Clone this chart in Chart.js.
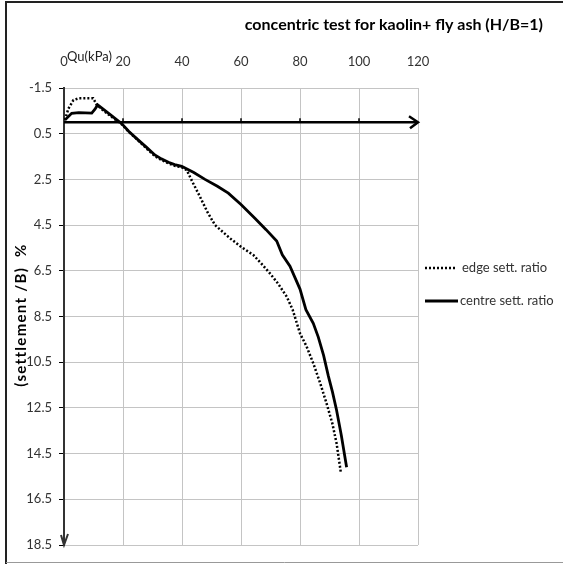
<!DOCTYPE html>
<html>
<head>
<meta charset="utf-8">
<title>concentric test for kaolin+ fly ash (H/B=1)</title>
<script src="https://cdn.jsdelivr.net/npm/chart.js@4.4.1/dist/chart.umd.min.js"></script>
<style>
  html, body { margin: 0; padding: 0; background: #fff; }
  #wrap { width: 563px; height: 564px; }
</style>
</head>
<body>
<div id="wrap"><canvas id="chart" width="563" height="564"></canvas></div>
<script>
// Axis ticks
const xTicks = [0, 20, 40, 60, 80, 100, 120];
const yTicks = [-1.5, 0.5, 2.5, 4.5, 6.5, 8.5, 10.5, 12.5, 14.5, 16.5, 18.5];

// edge sett. ratio (dotted)
const edgeQu = [0.3, 1.5, 3.2, 5, 7.1, 9.9, 11.1, 13.5, 16, 19.5, 22, 25.2, 28, 30.8, 33, 35.4, 37.5, 40,
  41.6, 43.5, 46.1, 48.5, 51.2, 56.3, 60, 64.2, 67, 69.8, 72.5, 75.5, 77.5, 80, 82.2, 84.5, 86.8, 89, 91, 92.4, 93.8];
const edgeRatio = [-0.1, -0.6, -0.97, -1.05, -1.05, -1.05, -0.76, -0.5, -0.25, 0.08, 0.42, 0.8, 1.15, 1.48, 1.65, 1.8, 1.9, 1.98,
  2.09, 2.6, 3.26, 3.9, 4.5, 5.08, 5.45, 5.81, 6.2, 6.61, 7.05, 7.63, 8.2, 9.24, 9.8, 10.55, 11.4, 12.3, 13.2, 14.05, 15.29];

// centre sett. ratio (solid)
const centreQu = [0.3, 2.6, 5, 9.4, 10.5, 11.4, 13.5, 16, 19.5, 22, 25.2, 28, 30.8, 33, 35.4, 37.5, 39.9, 44, 47.8,
  52, 55.7, 60, 64.7, 68.5, 72.1, 74, 76.6, 80, 82, 84.5, 86.2, 88, 89.6, 91, 92.4, 94, 95.8];
const centreRatio = [-0.1, -0.39, -0.42, -0.4, -0.57, -0.76, -0.55, -0.3, 0.05, 0.4, 0.78, 1.1, 1.43, 1.6, 1.75, 1.85, 1.93, 2.2, 2.5,
  2.8, 3.1, 3.6, 4.2, 4.7, 5.2, 5.8, 6.3, 7.3, 8.2, 8.8, 9.4, 10.2, 11.1, 11.8, 12.6, 13.7, 15.1];

const seriesNames = ['edge sett. ratio', 'centre sett. ratio'];
const chartTitle = 'concentric test for kaolin+ fly ash (H/B=1)';
const xTitle = 'Qu(kPa)';
const yTitle = '(settlement /B)  %';

const FONT = 'Lato, "Open Sans", sans-serif';

function toPoints(xs, ys) {
  return xs.map((x, i) => ({ x: x, y: ys[i] }));
}

// Frame, titles, axis arrows and legend
const decorPlugin = {
  id: 'decor',
  beforeDraw(chart) {
    const ctx = chart.ctx;
    ctx.save();
    ctx.fillStyle = '#fff';
    ctx.fillRect(0, 0, chart.width, chart.height);
    ctx.strokeStyle = '#222';
    ctx.lineWidth = 2;
    ctx.beginPath();
    ctx.moveTo(6, chart.height);
    ctx.lineTo(6, 2);
    ctx.lineTo(chart.width, 2);
    ctx.stroke();
    ctx.strokeStyle = '#999';
    ctx.lineWidth = 1;
    ctx.beginPath();
    ctx.moveTo(6, chart.height - 1.5);
    ctx.lineTo(chart.width, chart.height - 1.5);
    ctx.stroke();
    ctx.restore();
  },
  beforeDatasetsDraw(chart) {
    const ctx = chart.ctx;
    const xs = chart.scales.x;
    const ys = chart.scales.y;
    const y0 = ys.getPixelForValue(0);
    const xL = xs.getPixelForValue(0);
    const xR = xs.getPixelForValue(120);
    ctx.save();
    // horizontal axis line at 0 with arrow
    ctx.strokeStyle = '#000';
    ctx.lineWidth = 2.5;
    ctx.beginPath();
    ctx.moveTo(xL, y0);
    ctx.lineTo(xR - 1, y0);
    ctx.stroke();
    ctx.lineWidth = 1.5;
    xTicks.slice(1, -1).forEach(v => {
      const px = xs.getPixelForValue(v);
      ctx.beginPath();
      ctx.moveTo(px, y0);
      ctx.lineTo(px, y0 - 4);
      ctx.stroke();
    });
    ctx.lineWidth = 2.5;
    ctx.beginPath();
    ctx.moveTo(xR - 9, y0 - 6);
    ctx.lineTo(xR, y0);
    ctx.lineTo(xR - 8, y0 + 6);
    ctx.stroke();
    // vertical arrow head at bottom
    const yB = ys.getPixelForValue(18.5);
    ctx.strokeStyle = '#333';
    ctx.lineWidth = 2;
    ctx.beginPath();
    ctx.moveTo(xL - 3, yB - 10);
    ctx.lineTo(xL, yB);
    ctx.lineTo(xL + 4, yB - 11);
    ctx.stroke();
    ctx.restore();
  },
  afterDraw(chart) {
    const ctx = chart.ctx;
    const area = chart.chartArea;
    ctx.save();
    // title
    ctx.fillStyle = '#000';
    ctx.font = 'bold 16px ' + FONT;
    ctx.textAlign = 'right';
    ctx.textBaseline = 'middle';
    ctx.fillText(chartTitle, 543, 25);
    // x axis title
    ctx.font = '13px ' + FONT;
    ctx.fillStyle = '#222';
    ctx.textAlign = 'left';
    ctx.fillText(xTitle, area.left + 3, 57);
    // y axis title, rotated
    ctx.save();
    ctx.translate(21, 315);
    ctx.rotate(-Math.PI / 2);
    ctx.font = 'bold 15px ' + FONT;
    ctx.fillStyle = '#000';
    ctx.textAlign = 'center';
    ctx.textBaseline = 'middle';
    if ('letterSpacing' in ctx) ctx.letterSpacing = '1.3px';
    ctx.fillText(yTitle, 0, 0);
    ctx.restore();
    // legend
    const lx = area.right + 7;
    const rows = [268, 301];
    chart.data.datasets.forEach((ds, i) => {
      const yy = rows[i];
      ctx.strokeStyle = ds.borderColor;
      ctx.lineWidth = ds.borderWidth;
      ctx.setLineDash(ds.borderDash || []);
      ctx.beginPath();
      ctx.moveTo(lx, yy);
      ctx.lineTo(lx + (i === 0 ? 30 : 33), yy);
      ctx.stroke();
      ctx.setLineDash([]);
      ctx.fillStyle = '#333';
      ctx.font = '13px ' + FONT;
      ctx.textAlign = 'left';
      ctx.textBaseline = 'middle';
      ctx.fillText(ds.label, lx + (i === 0 ? 37 : 35), yy);
    });
    ctx.restore();
  }
};

new Chart(document.getElementById('chart'), {
  type: 'line',
  data: {
    datasets: [
      {
        label: seriesNames[0],
        data: toPoints(edgeQu, edgeRatio),
        borderColor: '#000',
        borderWidth: 2.5,
        borderDash: [2, 2],
        pointRadius: 0,
        tension: 0,
        fill: false
      },
      {
        label: seriesNames[1],
        data: toPoints(centreQu, centreRatio),
        borderColor: '#000',
        borderWidth: 2.8,
        pointRadius: 0,
        tension: 0,
        fill: false
      }
    ]
  },
  options: {
    responsive: false,
    animation: false,
    layout: { padding: { left: 8, top: 0, right: 145, bottom: 19 } },
    plugins: {
      legend: { display: false },
      title: { display: false },
      tooltip: { enabled: false }
    },
    scales: {
      x: {
        type: 'linear',
        position: 'top',
        min: xTicks[0],
        max: xTicks[xTicks.length - 1],
        afterBuildTicks: scale => { scale.ticks = xTicks.map(v => ({ value: v })); },
        afterFit: scale => { scale.height = 88; },
        ticks: {
          padding: 18,
          color: '#333',
          font: { family: FONT, size: 13 }
        },
        grid: { color: '#c4c4c4', lineWidth: 1, drawTicks: false },
        border: { display: false }
      },
      y: {
        type: 'linear',
        reverse: true,
        min: yTicks[0],
        max: yTicks[yTicks.length - 1],
        afterBuildTicks: scale => { scale.ticks = yTicks.map(v => ({ value: v })); },
        afterFit: scale => { scale.width = 56; },
        ticks: {
          padding: 7,
          color: '#333',
          font: { family: FONT, size: 13 },
          callback: v => Number(v).toFixed(1)
        },
        grid: { color: '#c4c4c4', lineWidth: 1, tickColor: '#000', tickLength: 5 },
        border: { color: '#333', width: 2 }
      }
    }
  },
  plugins: [decorPlugin]
});
</script>
</body>
</html>
